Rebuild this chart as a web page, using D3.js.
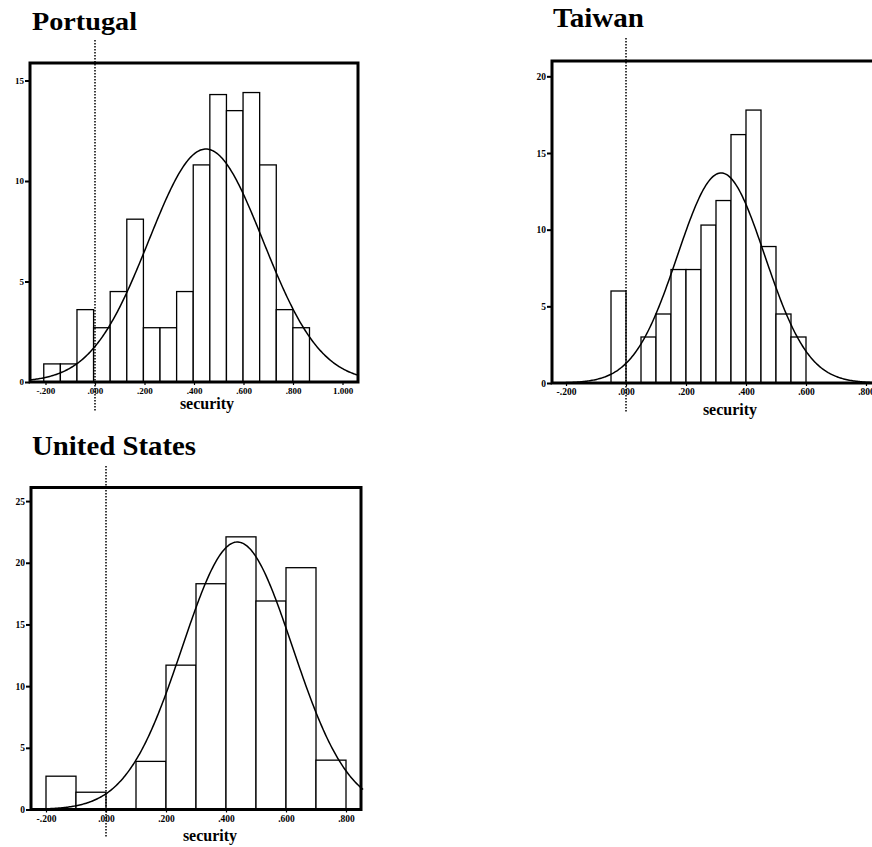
<!DOCTYPE html>
<html>
<head>
<meta charset="utf-8">
<script src="https://cdn.jsdelivr.net/npm/d3@7"></script>
<style>
    body { margin: 0; background: #fff; }
    svg { display: block; }
    text { font-family: "Liberation Serif", "Times New Roman", serif; font-weight: bold; fill: #000; }
</style>
</head>
<body>
<div id="chart"></div>
<script>
// percent of cases in each bin
var portugalPct = [0.9, 0.9, 3.6, 2.7, 4.5, 8.1, 2.7, 2.7, 4.5, 10.8, 14.3, 13.5, 14.4, 10.8, 3.6, 2.7]
var taiwanPct = [6.0, 0, 3.0, 4.5, 7.4, 7.4, 10.3, 11.9, 16.2, 17.8, 8.9, 4.5, 3.0]
var usPct = [2.7, 1.4, 0, 3.9, 11.7, 18.3, 22.1, 16.9, 19.6, 4.0]

// bin layout (first edge, width)
var portugalBins = [-0.207, 0.0671]
var taiwanBins = [-0.05, 0.05]
var usBins = [-0.2, 0.1]

// fitted normal curve (mean, sd)
var portugalFit = [0.448, 0.231]
var taiwanFit = [0.317, 0.1456]
var usFit = [0.438, 0.184]

var titles = ['Portugal', 'Taiwan', 'United States']
var xLabel = 'security'

var xTicksPortugal = [-0.2, 0, 0.2, 0.4, 0.6, 0.8, 1.0]
var xTicksOther = [-0.2, 0, 0.2, 0.4, 0.6, 0.8]
var yTicksPortugal = [0, 5, 10, 15]
var yTicksTaiwan = [0, 5, 10, 15, 20]
var yTicksUs = [0, 5, 10, 15, 20, 25]

var W = 872, H = 847

var svg = d3.select('#chart').append('svg')
    .attr('width', W)
    .attr('height', H)

var panels = [
    {
        title: titles[0], pct: portugalPct, bins: portugalBins, fit: portugalFit,
        xTicks: xTicksPortugal, yTicks: yTicksPortugal,
        box: [30, 63, 358, 382], xDomain: [-0.2626, 1.0626], yMax: 15.87,
        titlePos: [32, 30, 26, 105], labelPos: [207, 409], dotted: [40, 412], fs: 9,
        curveEnd: 1.0626
    },
    {
        title: titles[1], pct: taiwanPct, bins: taiwanBins, fit: taiwanFit,
        xTicks: xTicksOther, yTicks: yTicksTaiwan,
        box: [552, 61, 886, 383], xDomain: [-0.2467, 0.8667], yMax: 21.0,
        titlePos: [553, 27, 28, 91], labelPos: [730, 415], dotted: [38, 412], fs: 9.5,
        curveEnd: 0.8667
    },
    {
        title: titles[2], pct: usPct, bins: usBins, fit: usFit,
        xTicks: xTicksOther, yTicks: yTicksUs,
        box: [31, 487.5, 361, 809.5], xDomain: [-0.25, 0.85], yMax: 26.1,
        titlePos: [32, 455, 28, 164], labelPos: [210, 841], dotted: [466, 837], fs: 9.5,
        curveEnd: 0.857
    }
]

var fmt = function (v) {
    var s = d3.format('.3f')(v).replace('\u2212', '-')
    return s.replace(/^(-?)0\./, '$1.')
}

panels.forEach(function (p) {
    var x0 = p.box[0], y0 = p.box[1], x1 = p.box[2], y1 = p.box[3]
    var g = svg.append('g')

    var x = d3.scaleLinear().domain(p.xDomain).range([x0, x1])
    var y = d3.scaleLinear().domain([0, p.yMax]).range([y1, y0])

    // bars
    g.append('g').selectAll('rect')
        .data(p.pct.map(function (v, i) { return { v: v, a: p.bins[0] + i * p.bins[1] } }))
        .enter().filter(function (d) { return d.v > 0 })
        .append('rect')
        .attr('x', function (d) { return x(d.a) })
        .attr('y', function (d) { return y(d.v) })
        .attr('width', function (d) { return x(d.a + p.bins[1]) - x(d.a) })
        .attr('height', function (d) { return y(0) - y(d.v) })
        .style('fill', '#fff')
        .style('stroke', '#000')
        .style('stroke-width', 1.3)

    // normal curve
    var mu = p.fit[0], sd = p.fit[1]
    var xs = d3.range(p.xDomain[0], p.curveEnd, (p.curveEnd - p.xDomain[0]) / 300).concat([p.curveEnd])
    var line = d3.line()
        .x(function (d) { return x(d) })
        .y(function (d) {
            var dens = Math.exp(-0.5 * Math.pow((d - mu) / sd, 2)) / (sd * Math.sqrt(2 * Math.PI))
            return y(100 * p.bins[1] * dens)
        })
    g.append('path')
        .datum(xs)
        .attr('d', line)
        .style('fill', 'none')
        .style('stroke', '#000')
        .style('stroke-width', 1.5)

    // y axis
    var yAxis = d3.axisLeft(y).tickValues(p.yTicks).tickSize(5).tickPadding(1).tickFormat(d3.format('d'))
    var ya = g.append('g').attr('transform', `translate(${x0}, 0)`).call(yAxis)
    ya.select('.domain').remove()
    ya.selectAll('line').style('stroke-width', 2)
    ya.selectAll('text').style('font-size', p.fs + 'px')

    // x axis
    var xAxis = d3.axisBottom(x).tickValues(p.xTicks).tickSize(3).tickPadding(2.5).tickFormat(fmt)
    var xa = g.append('g').attr('transform', `translate(0, ${y1})`).call(xAxis)
    xa.select('.domain').remove()
    xa.selectAll('line').style('stroke-width', 1.2)
    xa.selectAll('text').style('font-size', p.fs + 'px')

    // frame
    g.append('rect')
        .attr('x', x0).attr('y', y0)
        .attr('width', x1 - x0).attr('height', y1 - y0)
        .style('fill', 'none')
        .style('stroke', '#000')
        .style('stroke-width', 3)

    // dotted reference line at zero
    g.append('line')
        .attr('x1', x(0)).attr('x2', x(0))
        .attr('y1', p.dotted[0]).attr('y2', p.dotted[1])
        .style('stroke', '#000')
        .style('stroke-width', 1.5)
        .style('stroke-dasharray', '1.5,1.5')

    // title
    g.append('text')
        .attr('x', p.titlePos[0]).attr('y', p.titlePos[1])
        .attr('textLength', p.titlePos[3])
        .attr('lengthAdjust', 'spacingAndGlyphs')
        .style('font-size', p.titlePos[2] + 'px')
        .text(p.title)

    // axis label
    g.append('text')
        .attr('x', p.labelPos[0]).attr('y', p.labelPos[1])
        .attr('text-anchor', 'middle')
        .style('font-size', '16px')
        .text(xLabel)
})
</script>
</body>
</html>
